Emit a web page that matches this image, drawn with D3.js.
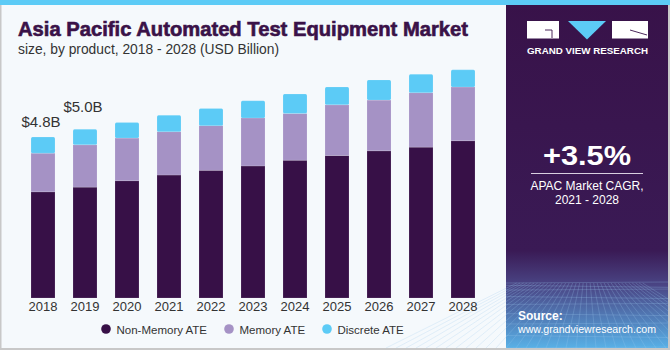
<!DOCTYPE html>
<html><head><meta charset="utf-8">
<script src="https://cdn.jsdelivr.net/npm/d3@7/dist/d3.min.js"></script>
<style>html,body{margin:0;padding:0;background:#f5f9fc;}svg{display:block;font-family:"Liberation Sans",Arial,sans-serif;}</style>
</head><body>
<svg id="c" width="670" height="350"></svg>
<script>
const years = ["2018","2019","2020","2021","2022","2023","2024","2025","2026","2027","2028"];
const nonMemory = [3.16,3.30,3.49,3.66,3.80,3.93,4.10,4.24,4.38,4.49,4.68];
const memory    = [1.15,1.26,1.27,1.29,1.33,1.43,1.39,1.51,1.51,1.62,1.60];
const discrete  = [0.48,0.46,0.46,0.49,0.51,0.51,0.58,0.53,0.60,0.55,0.51];
const seriesNames = ["Non-Memory ATE","Memory ATE","Discrete ATE"];
const seriesColors = ["#371047","#a592c5","#5ccbf6"];
const valueLabels = [{year:"2018",text:"$4.8B",dy:-10},{year:"2019",text:"$5.0B",dy:-17}];

const svg = d3.select("#c");
const W=670,H=350;
svg.append("rect").attr("width",W).attr("height",H).attr("fill","#f5f9fc");
svg.append("rect").attr("x",0).attr("y",0).attr("width",1.5).attr("height",H).attr("fill","#c8c8c8");
svg.append("rect").attr("x",0).attr("y",H-2).attr("width",W).attr("height",2).attr("fill","#c8c8c8");
svg.append("rect").attr("x",W-2).attr("y",0).attr("width",2).attr("height",H).attr("fill","#c8c8c8");

// right panel
const defs = svg.append("defs");
const g1 = defs.append("linearGradient").attr("id","pg").attr("x1",0).attr("y1",0).attr("x2",0).attr("y2",1);
g1.append("stop").attr("offset","0").attr("stop-color","#381249");
g1.append("stop").attr("offset","0.72").attr("stop-color","#3a1a55");
g1.append("stop").attr("offset","0.82").attr("stop-color","#4a4585");
g1.append("stop").attr("offset","1").attr("stop-color","#58b0e6");
const px=506, pw=162;
svg.append("rect").attr("x",px).attr("y",0).attr("width",pw).attr("height",H-2).attr("fill","url(#pg)");
const grid = svg.append("g").attr("stroke","#9ec8f0").attr("stroke-opacity",0.35).attr("stroke-width",0.7).attr("fill","none");
const cy0 = 283;
for(let i=0;i<9;i++){ const t=i/8; const yy=cy0+ (H-2-cy0)*Math.pow(t,1.6); grid.append("line").attr("x1",px).attr("x2",px+pw).attr("y1",yy).attr("y2",yy+ (i%2?2:-1)); }
for(let i=-12;i<=24;i++){ const xb=px+ i*10; const xt = px+pw/2 + (xb-(px+pw/2))*0.35; grid.append("line").attr("x1",Math.max(px,Math.min(px+pw,xt))).attr("y1",cy0).attr("x2",xb).attr("y2",H-2); }

// top strip
svg.append("rect").attr("x",0).attr("y",0).attr("width",W).attr("height",5).attr("fill","#5ccbf6");

// logo
const lg = svg.append("g");
lg.append("rect").attr("x",527).attr("y",21).attr("width",32).attr("height",17.5).attr("fill","#fff");
lg.append("path").attr("d","M545 30 H552 V38").attr("stroke","#381249").attr("stroke-width",0.9).attr("fill","none");
lg.append("path").attr("d","M568 21 H606 L587 39.5 Z").attr("fill","#5ccbf6");
lg.append("rect").attr("x",612).attr("y",21).attr("width",36).attr("height",17.5).attr("fill","#fff");
lg.append("path").attr("d","M630 30 L647 35").attr("stroke","#381249").attr("stroke-width",0.9).attr("fill","none");
lg.append("text").attr("x",587.5).attr("y",53.5).attr("text-anchor","middle").attr("fill","#fff")
  .attr("font-size",9.5).attr("font-weight","bold").attr("textLength",121).attr("lengthAdjust","spacingAndGlyphs").text("GRAND VIEW RESEARCH");

// CAGR
svg.append("text").attr("x",587).attr("y",165).attr("text-anchor","middle").attr("fill","#fff")
  .attr("font-size",28).attr("font-weight","bold").attr("textLength",88).attr("lengthAdjust","spacingAndGlyphs").text("+3.5%");
svg.append("line").attr("x1",531).attr("x2",643).attr("y1",173.5).attr("y2",173.5).attr("stroke","#d9d0e0").attr("stroke-width",1);
svg.append("text").attr("x",587).attr("y",190).attr("text-anchor","middle").attr("fill","#fff").attr("font-size",12).text("APAC Market CAGR,");
svg.append("text").attr("x",587).attr("y",204).attr("text-anchor","middle").attr("fill","#fff").attr("font-size",12).text("2021 - 2028");
svg.append("text").attr("x",518).attr("y",320).attr("fill","#fff").attr("font-size",12).attr("font-weight","bold").text("Source:");
svg.append("text").attr("x",518).attr("y",333).attr("fill","#fff").attr("font-size",11).attr("textLength",138).attr("lengthAdjust","spacingAndGlyphs").text("www.grandviewresearch.com");

// title
svg.append("text").attr("x",18).attr("y",35.5).attr("fill","#3a1248").attr("stroke","#3a1248").attr("stroke-width",0.6)
  .attr("font-size",19.5).attr("font-weight","bold")
  .attr("textLength",450).attr("lengthAdjust","spacingAndGlyphs").text("Asia Pacific Automated Test Equipment Market");
svg.append("text").attr("x",18).attr("y",54).attr("fill","#333").attr("font-size",14)
  .attr("textLength",261).attr("lengthAdjust","spacingAndGlyphs").text("size, by product, 2018 - 2028 (USD Billion)");

// chart
const x = d3.scaleBand().domain(years).range([31,475]).paddingInner(0.4286).paddingOuter(0);
const y = d3.scaleLinear().domain([0,1]).range([298,298-33.6]);
const data = years.map((yr,i)=>({year:yr,"Non-Memory ATE":nonMemory[i],"Memory ATE":memory[i],"Discrete ATE":discrete[i]}));
const stack = d3.stack().keys(seriesNames)(data);
const bars = svg.append("g");
stack.forEach((layer,li)=>{
  bars.append("g").selectAll("rect").data(layer).join("rect")
    .attr("x",d=>x(d.data.year)).attr("width",x.bandwidth())
    .attr("y",d=>y(d[1])).attr("height",d=>y(d[0])-y(d[1]))
    .attr("fill",seriesColors[li])
    .attr("rx", li===2?1.5:0)
    .attr("stroke","#ffffff").attr("stroke-opacity",0.18).attr("stroke-width",0.8);
});

const axis = d3.axisBottom(x).tickSize(0).tickPadding(0);
const ax = svg.append("g").attr("transform","translate(0,302)").call(axis);
ax.select(".domain").remove();
ax.selectAll("text").attr("font-size",13).attr("fill","#333").attr("dy","0.71em").attr("font-family","'Liberation Sans',Arial,sans-serif");

const totals = years.map((yr,i)=>nonMemory[i]+memory[i]+discrete[i]);
svg.append("g").selectAll("text").data(valueLabels).join("text")
  .attr("x",d=>x(d.year)+x.bandwidth()/2-2).attr("y",d=>y(totals[years.indexOf(d.year)])+d.dy)
  .attr("text-anchor","middle").attr("font-size",15).attr("fill","#333").text(d=>d.text);

const legX = [106,229,327];
const leg = svg.append("g");
seriesNames.forEach((n,i)=>{
  leg.append("circle").attr("cx",legX[i]).attr("cy",329).attr("r",4.8).attr("fill",seriesColors[i]);
  leg.append("text").attr("x",legX[i]+10.5).attr("y",333.5).attr("font-size",11.5).attr("fill","#333").text(n);
});
</script>
</body></html>
